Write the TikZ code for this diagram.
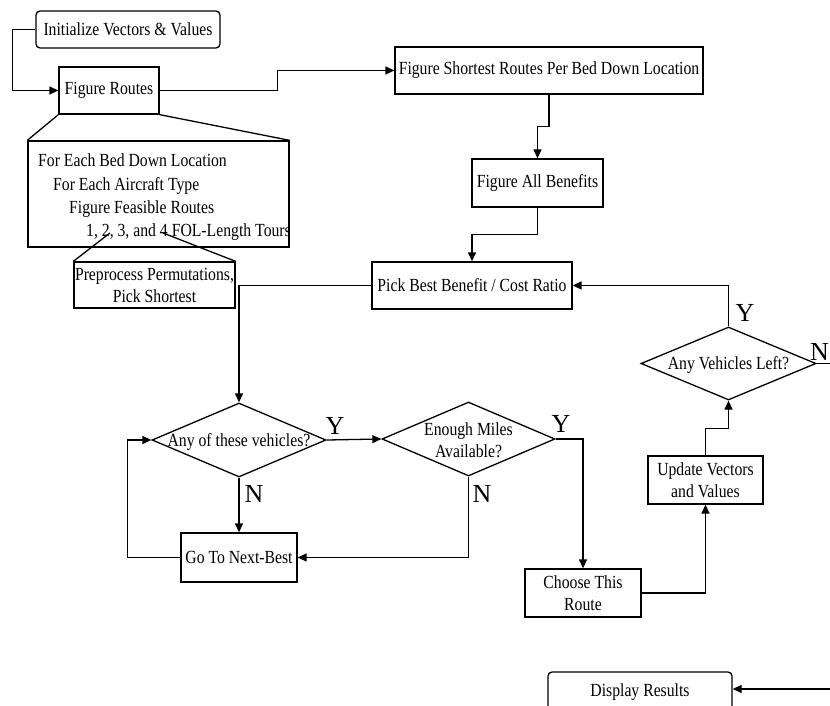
\documentclass[tikz,border=0pt]{standalone}
\usepackage{fontspec}
\setmainfont{Liberation Serif}[FakeStretch=0.85]
\newfontfamily\lblfont{Liberation Serif}
\usetikzlibrary{arrows.meta,shapes.geometric,calc}
\tikzset{
  box/.style={draw,line width=1.3pt,inner sep=0pt,align=center,font=\fontsize{18.5}{22}\selectfont},
  rbox/.style={box,rounded corners=4pt},
  dia/.style={draw,line width=1.3pt,diamond,inner sep=0pt},
  txt/.style={inner sep=0pt,align=center,font=\fontsize{18.5}{22}\selectfont},
  ltxt/.style={inner sep=0pt,anchor=base west,font=\fontsize{18.5}{22}\selectfont},
  yn/.style={inner sep=0pt,font=\lblfont\fontsize{26}{28}\selectfont},
  conn/.style={line width=1.3pt},
  arr/.style={conn,-{Triangle[length=9pt,width=8pt]}}
}
\begin{document}
\begin{tikzpicture}[x=1pt,y=-1pt]
\useasboundingbox (0,0) rectangle (830,706);
\clip (0,0) rectangle (830,706);
% boxes
\node[rbox,minimum width=184,minimum height=37] (init) at (128,29.5) {Initialize Vectors \& Values};
\node[box,minimum width=100,minimum height=47] (fr) at (109,90.5) {Figure Routes};
\node[box,minimum width=308,minimum height=47] (fs) at (549,70.5) {Figure Shortest Routes Per Bed Down Location};
\node[box,minimum width=261,minimum height=106] (det) at (158.5,194) {};
\node[ltxt] (l1) at (38,167) {For Each Bed Down Location};
\node[ltxt] (l2) at (53,190) {For Each Aircraft Type};
\node[ltxt] (l3) at (69,213) {Figure Feasible Routes};
\node[ltxt] (l4) at (86,236) {1, 2, 3, and 4 FOL-Length Tours};
\node[box,minimum width=161,minimum height=46] (pre) at (154.5,285) {Preprocess Permutations,\\Pick Shortest};
\node[box,minimum width=131,minimum height=48] (fab) at (537.5,183) {Figure All Benefits};
\node[box,minimum width=200,minimum height=47] (pb) at (472,285.5) {Pick Best Benefit / Cost Ratio};
\node[dia,minimum width=174,minimum height=74] (d1) at (239,440) {};
\node[txt] (d1t) at (239,442) {Any of these vehicles?};
\node[dia,minimum width=173,minimum height=74] (d2) at (468.5,439) {};
\node[txt] (d2t) at (468.5,440) {Enough Miles\\Available?};
\node[box,minimum width=116,minimum height=49] (gtnb) at (239,557.5) {Go To Next-Best};
\node[box,minimum width=116,minimum height=48] (choose) at (583,593) {Choose This\\Route};
\node[box,minimum width=115,minimum height=48] (upd) at (705.5,480) {Update Vectors\\and Values};
\node[dia,minimum width=175,minimum height=73] (d3) at (728.5,363.5) {};
\node[txt] (d3t) at (728.5,365) {Any Vehicles Left?};
\node[rbox,minimum width=184,minimum height=50] (disp) at (640,697) {};
\node[txt] (dispt) at (640,692) {Display Results};
% labels
\node[yn] (y1) at (335,426) {Y};
\node[yn] (y2) at (561,424) {Y};
\node[yn] (y3) at (745,313) {Y};
\node[yn] (n1) at (254,494) {N};
\node[yn] (n2) at (482,494) {N};
\node[yn,anchor=east] (n3) at (829,352) {N};
% coordinates
\coordinate (c2) at (110,233);
\coordinate (c4) at (163,233);
\coordinate (d3out) at (840,363.5);
\coordinate (dispin) at (840,689);
% connectors
\draw[arr] (init.west) -- ++(-23,0) |- (fr.west);
\draw[arr] (fr.east) -- ++(118,0) |- (fs.west);
\draw[conn] (fr.south west) -- (det.north west);
\draw[conn] (fr.south east) -- (det.north east);
\draw[conn] (c2) -- (pre.north west);
\draw[conn] (c4) -- (pre.north east);
\draw[arr] (fs.south) -- ++(0,32) -| (fab.north);
\draw[arr] (fab.south) -- ++(0,27) -| (pb.north);
\draw[arr] (pb.west) -| (d1.north);
\draw[arr] (d1.east) -- (d2.west);
\draw[arr] (d1.south) -- (gtnb.north);
\draw[arr] (gtnb.west) -- ++(-53,0) |- (d1.west);
\draw[arr] (d2.south) |- (gtnb.east);
\draw[arr] (d2.east) -| (choose.north);
\draw[arr] (choose.east) -| (upd.south);
\draw[arr] (upd.north) -- ++(0,-27) -| (d3.south);
\draw[arr] (d3.north) |- (pb.east);
\draw[conn] (d3.east) -- (d3out);
\draw[arr] (dispin) -- (disp.east |- dispin);
\end{tikzpicture}
\end{document}
